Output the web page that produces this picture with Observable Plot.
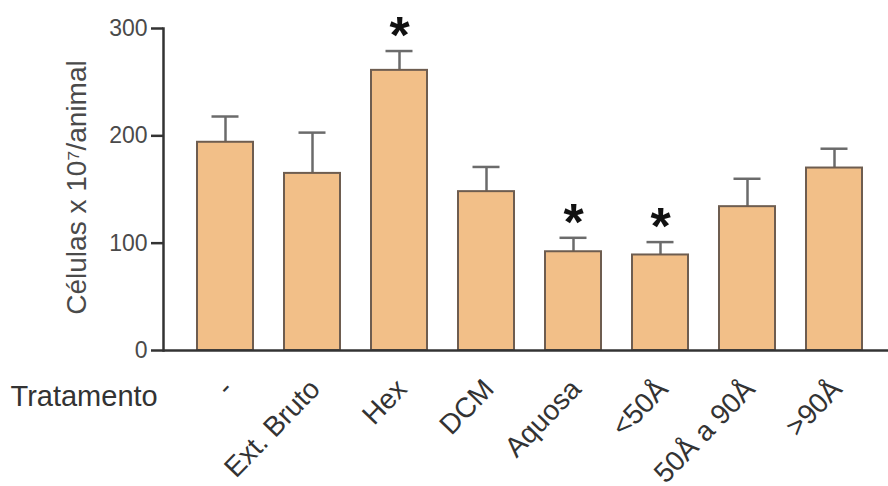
<!DOCTYPE html>
<html><head><meta charset="utf-8">
<script src="https://cdn.jsdelivr.net/npm/d3@7"></script>
<script src="https://cdn.jsdelivr.net/npm/@observablehq/plot@0.6"></script>
<style>body{margin:0;background:#fff}</style>
</head><body><div id="chart"></div>
<script>
const categories = ["-", "Ext. Bruto", "Hex", "DCM", "Aquosa", "<50Å", "50Å a 90Å", ">90Å"];
const means = [194, 165, 261, 148, 92, 89, 134, 170];
const errors = [24, 38, 18, 23, 13, 12, 26, 18];
const significant = [false, false, true, false, true, true, false, false];
const yTicks = [0, 100, 200, 300];
const yLabel = "Células x 10⁷/animal";
const xLabel = "Tratamento";

const data = categories.map((c, i) => ({cat: c, mean: means[i], err: errors[i], top: means[i] + errors[i], sig: significant[i]}));

const chart = Plot.plot({
  width: 888, height: 486,
  marginTop: 28, marginBottom: 136, marginLeft: 163, marginRight: 0,
  style: {fontFamily: "'Liberation Sans', Arial, sans-serif", fontSize: "22px", color: "#444", background: "#fff"},
  x: {domain: categories, paddingInner: 0.352, paddingOuter: 0.296, align: 0.577, axis: null},
  y: {domain: [0, 300], axis: null},
  marks: [
    Plot.ruleX(data, {x: "cat", y1: "mean", y2: "top", stroke: "#6b6b6b", strokeWidth: 2.5}),
    Plot.tickY(data, {x: "cat", y: "top", stroke: "#6b6b6b", strokeWidth: 2.5, inset: 14.5}),
    Plot.barY(data, {x: "cat", y: "mean", fill: "#f2bf88", stroke: "#6e5d50", strokeWidth: 2}),
    Plot.axisY({ticks: yTicks, tickSize: 12, tickPadding: 4, stroke: "#333", strokeWidth: 2.5, fill: "#4a4a4a", fontSize: 23}),
    Plot.frame({anchor: "left", stroke: "#333", strokeWidth: 2.5}),
    Plot.ruleY([0], {stroke: "#333", strokeWidth: 2.5}),
    Plot.text(data, {x: "cat", frameAnchor: "bottom", text: "cat", rotate: -46, textAnchor: "end", lineAnchor: "bottom", dx: 9, dy: 40, fontSize: 28, fill: "#333"}),
    Plot.text([xLabel], {frameAnchor: "bottom-left", text: d => d, textAnchor: "start", lineAnchor: "bottom", dx: -153, dy: 55, fontSize: 29, fill: "#333"}),
    Plot.text([yLabel], {frameAnchor: "left", text: d => d, rotate: -90, textAnchor: "middle", lineAnchor: "middle", dx: -86, dy: -2, fontSize: 28, fill: "#4a4a4a"}),
    Plot.text(data.filter(d => d.sig), {x: "cat", y: "top", text: () => "*", fontSize: 52, fontWeight: "bold", lineAnchor: "bottom", dy: 2, fill: "#111"})
  ]
});
document.getElementById("chart").appendChild(chart);
</script>
</body></html>
